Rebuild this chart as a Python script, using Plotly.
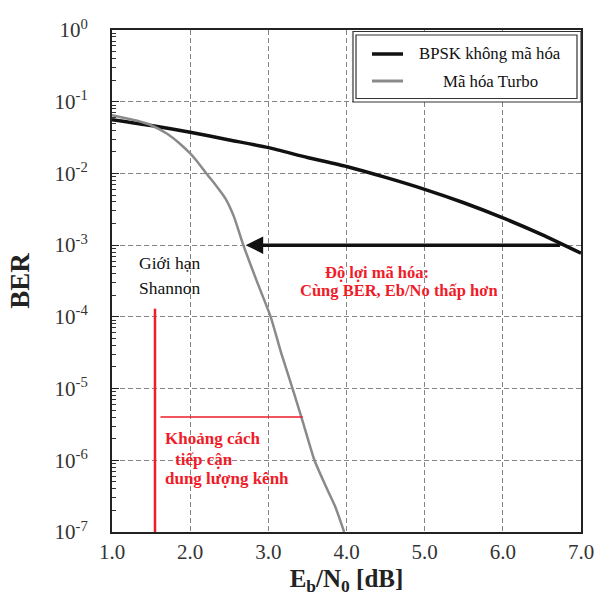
import plotly.graph_objects as go

# ---------------- data ----------------
bpsk_ebn0 = [1.0, 1.5, 2.0, 2.5, 3.0, 3.5, 4.0, 4.5, 5.0, 5.5, 6.0, 6.5, 7.0]
bpsk_ber = [0.0563, 0.0467, 0.0375, 0.0293, 0.0229, 0.0167, 0.0125,
            0.0088, 0.0060, 0.0039, 0.0024, 0.0014, 0.00077]

turbo_ebn0 = [1.0, 1.3, 1.5, 1.7, 1.85, 2.0, 2.1, 2.2, 2.33, 2.45, 2.56, 2.68,
              2.85, 3.03, 3.17, 3.31, 3.45, 3.59, 3.75, 3.86, 3.97]
turbo_ber = [0.065, 0.055, 0.047, 0.036, 0.027, 0.019, 0.0142, 0.0102, 0.0068,
             0.0045, 0.0025, 0.001, 3.2e-4, 1e-4, 3e-5, 1e-5, 3.2e-6, 1e-6,
             4e-7, 2.2e-7, 1e-7]

shannon_x = [1.55, 1.55]
shannon_y = [1.3e-4, 1e-7]
gap_x = [1.62, 3.44]
gap_y = [4e-6, 4e-6]

arrow_from_x = 6.75
arrow_to_x = 2.71
arrow_ber_exp = -3

x_ticks = [1, 2, 3, 4, 5, 6, 7]
x_tick_text = ["1.0", "2.0", "3.0", "4.0", "5.0", "6.0", "7.0"]
y_ticks = [1, 1e-1, 1e-2, 1e-3, 1e-4, 1e-5, 1e-6, 1e-7]
y_tick_text = ["10<sup>0</sup>", "10<sup>-1</sup>", "10<sup>-2</sup>", "10<sup>-3</sup>",
               "10<sup>-4</sup>", "10<sup>-5</sup>", "10<sup>-6</sup>", "10<sup>-7</sup>"]

series_names = ["BPSK không mã hóa", "Mã hóa Turbo"]

# ---------------- layout helpers ----------------
W, H = 596, 596
L, R, T, B = 112, 581, 30, 532
SERIF = "Liberation Serif"
RED = "#ef1c2a"
GRAY = "#8a8a8a"


def px_x(px):
    return (px - L) / (R - L)


def px_y(py):
    return (B - py) / (B - T)


fig = go.Figure()
fig.add_trace(go.Scatter(x=bpsk_ebn0, y=bpsk_ber, mode="lines", name=series_names[0],
                         line=dict(color="#111111", width=3.5, shape="spline", smoothing=0.6),
                         showlegend=False))
fig.add_trace(go.Scatter(x=turbo_ebn0, y=turbo_ber, mode="lines", name=series_names[1],
                         line=dict(color=GRAY, width=2.5, shape="spline", smoothing=0.5),
                         showlegend=False))
fig.add_trace(go.Scatter(x=shannon_x, y=shannon_y, mode="lines", line=dict(color=RED, width=2.5),
                         showlegend=False, hoverinfo="skip"))
fig.add_trace(go.Scatter(x=gap_x, y=gap_y, mode="lines", line=dict(color=RED, width=1.5),
                         showlegend=False, hoverinfo="skip"))

shapes = []
# white boxes behind texts that hide the grid (between grid and traces)
for (x0, x1, y0, y1) in [(113, 218, 233, 309), (266, 527, 255, 313), (277, 527, 313, 320),
                         (156, 293, 423, 523)]:
    shapes.append(dict(type="rect", xref="paper", yref="paper", layer="between",
                       x0=px_x(x0), x1=px_x(x1), y0=px_y(y1), y1=px_y(y0),
                       fillcolor="white", line=dict(width=0)))
# legend box (double border)
shapes.append(dict(type="rect", xref="paper", yref="paper", layer="above",
                   x0=px_x(353), x1=px_x(581), y0=px_y(102), y1=px_y(31.5),
                   fillcolor="white", line=dict(color="#333", width=1.2)))
shapes.append(dict(type="rect", xref="paper", yref="paper", layer="above",
                   x0=px_x(356), x1=px_x(577), y0=px_y(98.5), y1=px_y(35),
                   fillcolor="white", line=dict(color="#333", width=1.2)))
shapes.append(dict(type="line", xref="paper", yref="paper", layer="above",
                   x0=px_x(372), x1=px_x(403), y0=px_y(54), y1=px_y(54),
                   line=dict(color="#111111", width=3.5)))
shapes.append(dict(type="line", xref="paper", yref="paper", layer="above",
                   x0=px_x(372), x1=px_x(403), y0=px_y(81), y1=px_y(81),
                   line=dict(color=GRAY, width=3)))

annotations = []
# arrow
annotations.append(dict(x=arrow_to_x, y=arrow_ber_exp, ax=arrow_from_x, ay=arrow_ber_exp,
                        xref="x", yref="y", axref="x", ayref="y", text="",
                        showarrow=True, arrowhead=2, arrowsize=1.0, arrowwidth=3.5,
                        arrowcolor="#111111"))


def txt(text, px, py, color, size, bold=False, anchor="left"):
    t = f"<b>{text}</b>" if bold else text
    annotations.append(dict(text=t, x=px_x(px), y=px_y(py), xref="paper", yref="paper",
                            xanchor=anchor, yanchor="middle", showarrow=False,
                            font=dict(family=SERIF, size=size, color=color)))


txt("Giới hạn", 137, 263, "#111", 17.5)
txt("Shannon", 137, 288, "#111", 17.5)
txt("Độ lợi mã hóa:", 323, 272, RED, 16.5, bold=True)
txt("Cùng BER, Eb/No thấp hơn", 298, 290, RED, 16.5, bold=True)
txt("Khoảng cách", 163, 438, RED, 17, bold=True)
txt("tiếp cận", 173, 459, RED, 17, bold=True)
txt("dung lượng kênh", 163, 478, RED, 17, bold=True)
txt(series_names[0], 417, 54, "#111", 16.8)
txt(series_names[1], 490, 81, "#111", 16.8, anchor="center")

grid = dict(showgrid=True, gridcolor="#858585", gridwidth=1.4, griddash="5px,3px")

fig.update_layout(
    width=W, height=H,
    margin=dict(l=L, r=W - R, t=T, b=H - B, autoexpand=False),
    paper_bgcolor="white", plot_bgcolor="white",
    font=dict(family=SERIF, color="#222"),
    xaxis=dict(range=[1, 7], tickmode="array", tickvals=x_ticks, ticktext=x_tick_text,
               ticks="", showline=True, linecolor="#222", linewidth=2, mirror=True,
               zeroline=False, tickfont=dict(size=21, family=SERIF, color="#333"),
               title=dict(text="<b>E<sub>b</sub>/N<sub>0</sub> [dB]</b>",
                          font=dict(size=25, family=SERIF, color="#222"), standoff=15),
               **grid),
    yaxis=dict(type="log", range=[-7, 0], tickmode="array", tickvals=y_ticks,
               ticktext=y_tick_text, ticks="inside", ticklen=7, tickcolor="#222",
               showline=True, linecolor="#222", linewidth=2, mirror=True, zeroline=False,
               tickfont=dict(size=21, family=SERIF, color="#333"), ticklabelstandoff=18,
               minor=dict(ticks="inside", ticklen=4, tickcolor="#333", tickmode="linear",
                          dtick="D1", showgrid=False),
               title=dict(text="<b>BER</b>", font=dict(size=27, family=SERIF, color="#222"),
                          standoff=17),
               **grid),
    shapes=shapes,
    annotations=annotations,
    showlegend=False,
)

fig.write_html("out.html")
